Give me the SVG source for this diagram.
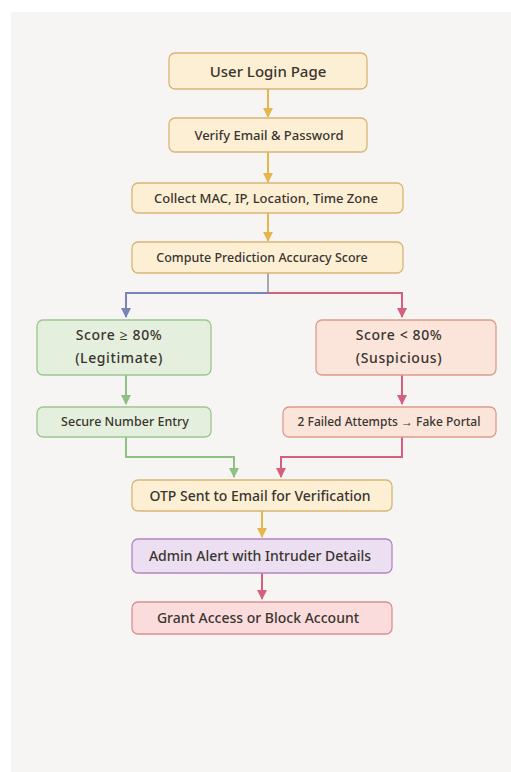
<svg xmlns="http://www.w3.org/2000/svg" width="511" height="772" viewBox="0 0 511 772">
<defs>
<style>
text{font-family:"Noto Sans","Open Sans","Liberation Sans",sans-serif;fill:#3a3530;text-anchor:middle;dominant-baseline:central;font-weight:500}
.y rect{fill:#fdefd4;stroke:#d8b576;stroke-width:1.3}
.g rect{fill:#e4f0dd;stroke:#9cc590;stroke-width:1.3}
.r rect{fill:#fbe4da;stroke:#dc9c8b;stroke-width:1.3}
.p rect{fill:#ecdff1;stroke:#b285c2;stroke-width:1.3}
.k rect{fill:#fadcdd;stroke:#dd8d93;stroke-width:1.3}
.c{fill:none;stroke-width:2}
</style>
<marker id="ay" viewBox="0 0 10 10" refX="9" refY="5" markerWidth="5" markerHeight="5" orient="auto"><path d="M0,0L10,5L0,10z" fill="#e6b64c"/></marker>
<marker id="ab" viewBox="0 0 10 10" refX="9" refY="5" markerWidth="5" markerHeight="5" orient="auto"><path d="M0,0L10,5L0,10z" fill="#7884b6"/></marker>
<marker id="ap" viewBox="0 0 10 10" refX="9" refY="5" markerWidth="5" markerHeight="5" orient="auto"><path d="M0,0L10,5L0,10z" fill="#d5607e"/></marker>
<marker id="ag" viewBox="0 0 10 10" refX="9" refY="5" markerWidth="5" markerHeight="5" orient="auto"><path d="M0,0L10,5L0,10z" fill="#8fc083"/></marker>
</defs>
<rect x="0" y="0" width="511" height="772" fill="#ffffff"/>
<rect x="11" y="12" width="500" height="760" fill="#f6f5f3"/>
<g id="connectors">
<path class="c" d="M268,89V117" stroke="#e6b64c" marker-end="url(#ay)"/>
<path class="c" d="M268,152V182" stroke="#e6b64c" marker-end="url(#ay)"/>
<path class="c" d="M268,213V241" stroke="#e6b64c" marker-end="url(#ay)"/>
<path class="c" d="M268,273V293" stroke="#a8a6ae"/>
<path class="c" d="M268,293H126V317" stroke="#7884b6" marker-end="url(#ab)"/>
<path class="c" d="M268,293H402V317" stroke="#d5607e" marker-end="url(#ap)"/>
<path class="c" d="M126,375V404" stroke="#8fc083" marker-end="url(#ag)"/>
<path class="c" d="M402,375V404" stroke="#d5607e" marker-end="url(#ap)"/>
<path class="c" d="M126,437V457H234V477" stroke="#8fc083" marker-end="url(#ag)"/>
<path class="c" d="M402,437V457H281V477" stroke="#d5607e" marker-end="url(#ap)"/>
<path class="c" d="M262,511V537" stroke="#e6b64c" marker-end="url(#ay)"/>
<path class="c" d="M262,573V599" stroke="#d5607e" marker-end="url(#ap)"/>
</g>
<g id="login" class="y"><rect x="169" y="53" width="198" height="36" rx="6"/><text x="268" y="71" font-size="15">User Login Page</text></g>
<g id="verify" class="y"><rect x="169" y="118" width="198" height="34" rx="6"/><text x="269" y="134.500" font-size="13">Verify Email &amp; Password</text></g>
<g id="collect" class="y"><rect x="132" y="183" width="271" height="30" rx="6"/><text x="266" y="197.500" font-size="13">Collect MAC, IP, Location, Time Zone</text></g>
<g id="compute" class="y"><rect x="132" y="242" width="271" height="31" rx="6"/><text x="262" y="257" font-size="12.500">Compute Prediction Accuracy Score</text></g>
<g id="legit" class="g"><rect x="37" y="320" width="174" height="55" rx="6"/><text x="119" y="334.500" font-size="14" letter-spacing="0.6">Score ≥ 80%</text><text x="119" y="357.500" font-size="14" letter-spacing="0.6">(Legitimate)</text></g>
<g id="susp" class="r"><rect x="316" y="320" width="180" height="55" rx="6"/><text x="399" y="334.500" font-size="14" letter-spacing="0.6">Score &lt; 80%</text><text x="399" y="357.500" font-size="14" letter-spacing="0.6">(Suspicious)</text></g>
<g id="secure" class="g"><rect x="37" y="407" width="174" height="30" rx="6"/><text x="125" y="421.500" font-size="12.500">Secure Number Entry</text></g>
<g id="failed" class="r"><rect x="283" y="407" width="213" height="30" rx="6"/><text x="389" y="421.500" font-size="12">2 Failed Attempts → Fake Portal</text></g>
<g id="otp" class="y"><rect x="132" y="480" width="260" height="31" rx="6"/><text x="260" y="495" font-size="14">OTP Sent to Email for Verification</text></g>
<g id="admin" class="p"><rect x="132" y="539" width="260" height="34" rx="6"/><text x="260" y="555.500" font-size="14">Admin Alert with Intruder Details</text></g>
<g id="grant" class="k"><rect x="132" y="602" width="260" height="32" rx="6"/><text x="258" y="617.500" font-size="14">Grant Access or Block Account</text></g>
</svg>
